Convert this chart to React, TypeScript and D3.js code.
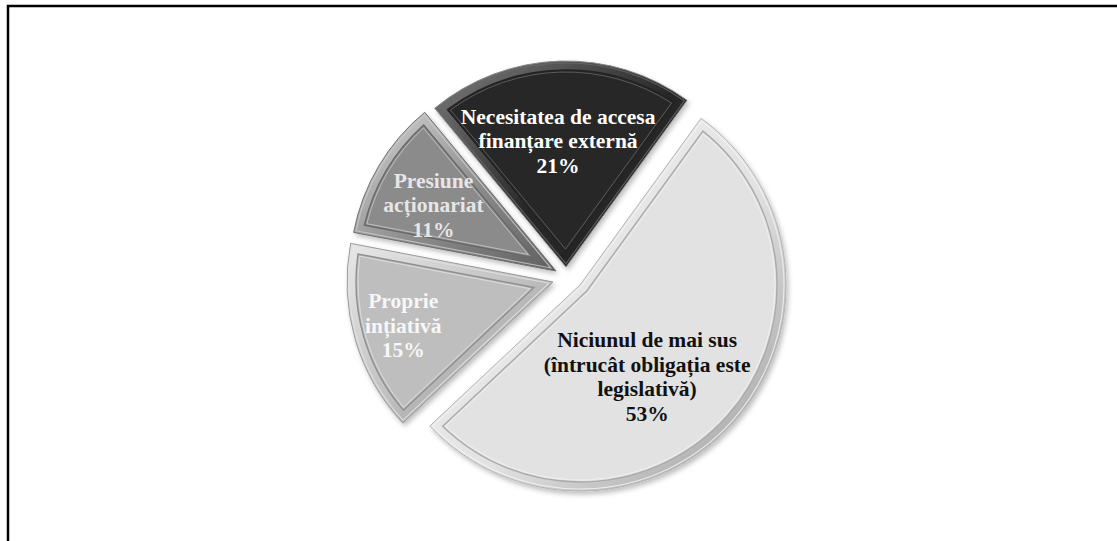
import React from "react";
import * as d3 from "d3";

// ---- data ----
const categories = [
  "Niciunul de mai sus (întrucât obligația este legislativă)",
  "Proprie ințiativă",
  "Presiune acționariat",
  "Necesitatea de accesa finanțare externă",
];
const labelLines = [
  ["Niciunul de mai sus", "(întrucât obligația este", "legislativă)"],
  ["Proprie", "ințiativă"],
  ["Presiune", "acționariat"],
  ["Necesitatea de accesa", "finanțare externă"],
];
const values = [53, 15, 11, 21];
const percentLabels = ["53%", "15%", "11%", "21%"];

// ---- style ----
const sliceColors = ["#e2e2e2", "#bebebe", "#8b8b8b", "#272727"];
const edgeColors = ["#b4b4b4", "#9a9a9a", "#707070", "#8a8a8a"];
const textColors = ["#111111", "#f7f7f7", "#e6e6e6", "#ffffff"];
const explodeOffsets: [number, number][] = [
  [14, 15],
  [-13, 12],
  [-10, 1],
  [0, -3],
];
const labelRadius = [114, 156, 139, 126];
const labelAngleShift = [12.5, 0, -2.4, -1.8];

const W = 1117;
const H = 541;
const CX = 566;
const CY = 270;
const R = 206;
const START_DEG = 36;
const FONT = 21.5;
const LH = 24.5;

function insetSector(a0: number, a1: number, r: number, d: number) {
  const th = a1 - a0;
  const mid = (a0 + a1) / 2;
  const ad = d > 0 ? d / Math.sin(th / 2) : 0;
  const rr = r - d;
  const p0 = a0 + Math.asin(d / rr);
  const p1 = a1 - Math.asin(d / rr);
  const p = d3.path();
  p.moveTo(ad * Math.sin(mid), -ad * Math.cos(mid));
  p.lineTo(rr * Math.sin(p0), -rr * Math.cos(p0));
  p.arc(0, 0, rr, p0 - Math.PI / 2, p1 - Math.PI / 2, false);
  p.closePath();
  return p.toString();
}

export default function App() {
  const start = (START_DEG * Math.PI) / 180;
  const pie = d3
    .pie<number>()
    .sort(null)
    .value((v) => v)
    .startAngle(start)
    .endAngle(start + 2 * Math.PI);
  const arcs = pie(values);
  const arcGen = d3.arc<d3.PieArcDatum<number>>().innerRadius(0).outerRadius(R);

  const centers = arcs.map((a, i) => [CX + explodeOffsets[i][0], CY + explodeOffsets[i][1]]);

  return (
    <div style={{ position: "absolute", left: 0, top: 0 }}>
      <svg width={W} height={H} style={{ display: "block", background: "#ffffff" }}>
        <defs>
          <filter id="shadow" x="-10%" y="-10%" width="125%" height="125%">
            <feDropShadow dx="2" dy="3" stdDeviation="2.5" floodColor="#000" floodOpacity="0.25" />
          </filter>
          {arcs.map((a, i) => {
            const base = sliceColors[i];
            const light = d3.interpolateRgb(base, "#ffffff")(i === 3 ? 0.4 : 0.65);
            const dark = d3.interpolateRgb(base, "#000000")(i === 3 ? 0.15 : 0.32);
            return (
              <linearGradient key={i} id={`rim${i}`} x1="0" y1="0" x2="1" y2="1">
                <stop offset="0" stopColor={light} />
                <stop offset="0.55" stopColor={base} />
                <stop offset="1" stopColor={dark} />
              </linearGradient>
            );
          })}
        </defs>

        {/* frame */}
        <rect x={8} y={6} width={1200} height={600} fill="none" stroke="#000" strokeWidth={2.5} />

        {arcs.map((a, i) => {
          const [sx, sy] = centers[i];
          const c = sliceColors[i];
          const lighter = d3.interpolateRgb(c, "#ffffff")(i === 3 ? 0.3 : 0.55);
          const darker = d3.interpolateRgb(c, "#000000")(i === 3 ? 0.1 : 0.25);
          return (
            <g key={categories[i]} transform={`translate(${sx},${sy})`}>
              <path
                d={arcGen(a) || ""}
                fill={`url(#rim${i})`}
                stroke={edgeColors[i]}
                strokeWidth={1}
                filter="url(#shadow)"
              />
              <path
                d={insetSector(a.startAngle, a.endAngle, R, 2)}
                fill="none"
                stroke={lighter}
                strokeWidth={1.2}
                opacity={0.8}
              />
              <path
                d={insetSector(a.startAngle, a.endAngle, R, 9)}
                fill={c}
                stroke={darker}
                strokeWidth={1.4}
              />
              <path
                d={insetSector(a.startAngle, a.endAngle, R, 11)}
                fill="none"
                stroke={lighter}
                strokeWidth={1}
                opacity={0.8}
              />
            </g>
          );
        })}

        {arcs.map((a, i) => {
          const mid = (a.startAngle + a.endAngle) / 2;
          const [sx, sy] = centers[i];
          const ang = mid + (labelAngleShift[i] * Math.PI) / 180;
          const lx = sx + labelRadius[i] * Math.sin(ang);
          const ly = sy - labelRadius[i] * Math.cos(ang);
          const lines = [...labelLines[i], percentLabels[i]];
          const n = lines.length;
          return (
            <text
              key={`t${i}`}
              textAnchor="middle"
              fontFamily="'Liberation Serif', 'Times New Roman', serif"
              fontWeight="bold"
              fontSize={FONT}
              fill={textColors[i]}
            >
              {lines.map((t, k) => (
                <tspan key={k} x={lx} y={ly + (k - (n - 1) / 2) * LH} dominantBaseline="central">
                  {t}
                </tspan>
              ))}
            </text>
          );
        })}
      </svg>
    </div>
  );
}
